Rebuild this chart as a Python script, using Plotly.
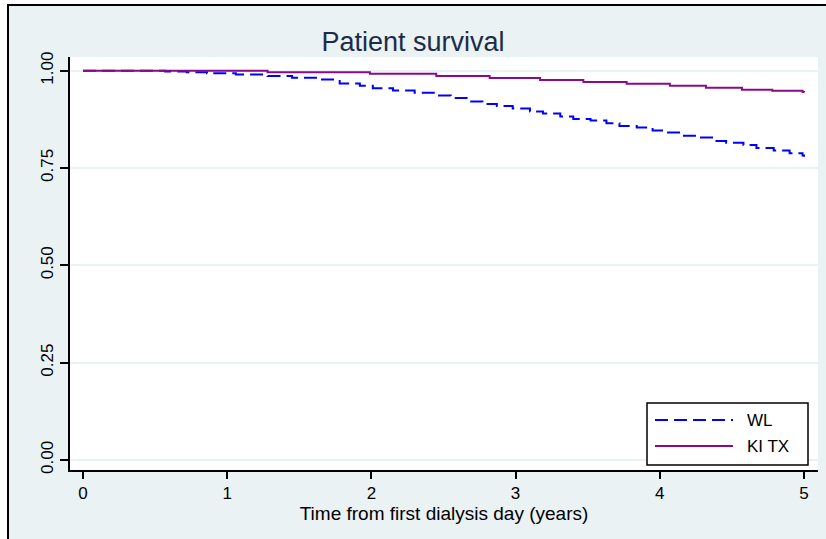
import plotly.graph_objects as go

# Kaplan-Meier step estimates (time in years, survival probability)
wl_time = [0, 0.57, 0.72, 0.86, 1.06, 1.28, 1.45, 1.64, 1.78, 1.92, 2.01, 2.15, 2.30,
           2.45, 2.55, 2.66, 2.77, 2.87, 2.98, 3.10, 3.19, 3.31, 3.40, 3.52, 3.63,
           3.72, 3.84, 3.95, 4.05, 4.16, 4.26, 4.37, 4.46, 4.58, 4.67, 4.79, 4.90,
           4.99, 5.0]
wl_surv = [1.0, 0.998, 0.996, 0.993, 0.990, 0.986, 0.982, 0.977, 0.967, 0.961, 0.955,
           0.949, 0.943, 0.936, 0.930, 0.921, 0.914, 0.909, 0.903, 0.895, 0.890,
           0.882, 0.876, 0.872, 0.865, 0.858, 0.854, 0.846, 0.841, 0.833, 0.828,
           0.819, 0.815, 0.809, 0.801, 0.795, 0.788, 0.782, 0.779]

tx_time = [0, 1.28, 1.99, 2.45, 2.82, 3.17, 3.47, 3.77, 4.07, 4.32, 4.57, 4.78, 4.99, 5.0]
tx_surv = [1.0, 0.996, 0.992, 0.986, 0.981, 0.976, 0.971, 0.966, 0.961, 0.956, 0.951,
           0.948, 0.945, 0.944]

x_ticks = [0, 1, 2, 3, 4, 5]
y_ticks = [0.0, 0.25, 0.5, 0.75, 1.0]
y_tick_text = ["0.00", "0.25", "0.50", "0.75", "1.00"]

series_names = ["WL", "KI TX"]
wl_color = "#0000FF"
tx_color = "#8B0A8B"
bg = "#EAF2F3"
font_family = "Liberation Sans, Arial, sans-serif"

W, H = 826, 539
L, R, T, B = 70, 8, 57, 69
pw, ph = W - L - R, H - T - B


def px(x):
    return (x - L) / pw


def py(y):
    return (H - B - y) / ph


fig = go.Figure()
fig.add_trace(go.Scatter(x=wl_time, y=wl_surv, mode="lines", line_shape="hv",
                         name=series_names[0],
                         line=dict(color=wl_color, width=2, dash="13px,6px"),
                         showlegend=False))
fig.add_trace(go.Scatter(x=tx_time, y=tx_surv, mode="lines", line_shape="hv",
                         name=series_names[1],
                         line=dict(color=tx_color, width=2),
                         showlegend=False))

shapes = [
    # outer frame
    dict(type="rect", xref="paper", yref="paper", x0=px(0), x1=px(8), y0=py(H + 5), y1=py(-5),
         fillcolor="white", line=dict(width=0), layer="above"),
    dict(type="rect", xref="paper", yref="paper", x0=px(0), x1=px(W + 5), y0=py(4), y1=py(-5),
         fillcolor="white", line=dict(width=0), layer="above"),
    dict(type="line", xref="paper", yref="paper", x0=px(8), x1=px(8), y0=py(H + 5), y1=py(4),
         line=dict(color="black", width=2)),
    dict(type="line", xref="paper", yref="paper", x0=px(8), x1=px(W + 5), y0=py(5), y1=py(5),
         line=dict(color="black", width=2)),
    # legend box
    dict(type="rect", xref="paper", yref="paper", x0=px(647), x1=px(808), y0=py(465), y1=py(403),
         fillcolor="white", line=dict(color="black", width=1.5), layer="above"),
    dict(type="line", xref="paper", yref="paper", x0=px(655), x1=px(733), y0=py(420), y1=py(420),
         line=dict(color=wl_color, width=2, dash="13px,6px"), layer="above"),
    dict(type="line", xref="paper", yref="paper", x0=px(655), x1=px(733), y0=py(446), y1=py(446),
         line=dict(color=tx_color, width=2), layer="above"),
]

annotations = [
    dict(text=series_names[0], xref="paper", yref="paper", x=px(745), y=py(420),
         xanchor="left", yanchor="middle", showarrow=False,
         font=dict(family=font_family, size=17, color="black")),
    dict(text=series_names[1], xref="paper", yref="paper", x=px(745), y=py(446),
         xanchor="left", yanchor="middle", showarrow=False,
         font=dict(family=font_family, size=17, color="black")),
]

fig.update_layout(
    width=W, height=H,
    margin=dict(l=L, r=R, t=T, b=B, pad=0),
    paper_bgcolor=bg,
    plot_bgcolor="white",
    font=dict(family=font_family, color="black"),
    title=dict(text="Patient survival", x=px(444), xanchor="center",
               y=1 - 42 / H, yanchor="middle",
               font=dict(family=font_family, size=27, color="#1C2B4A")),
    shapes=shapes,
    annotations=annotations,
    xaxis=dict(range=[-0.09, 5.097], tickvals=x_ticks, ticktext=[str(v) for v in x_ticks],
               showgrid=False, zeroline=False, showline=True, linecolor="black", linewidth=2,
               ticks="outside", ticklen=7, tickwidth=2, tickcolor="black",
               tickfont=dict(size=17, color="black"),
               title=dict(text="Time from first dialysis day (years)",
                          font=dict(size=19, color="black"), standoff=3)),
    yaxis=dict(range=[-0.0257, 1.035], tickvals=y_ticks, ticktext=y_tick_text,
               showgrid=True, gridcolor=bg, gridwidth=2, zeroline=False,
               showline=True, linecolor="black", linewidth=2,
               ticks="outside", ticklen=8, tickwidth=2, tickcolor="black",
               tickangle=-90, tickfont=dict(size=17, color="black")),
)

fig.write_html("out.html")
